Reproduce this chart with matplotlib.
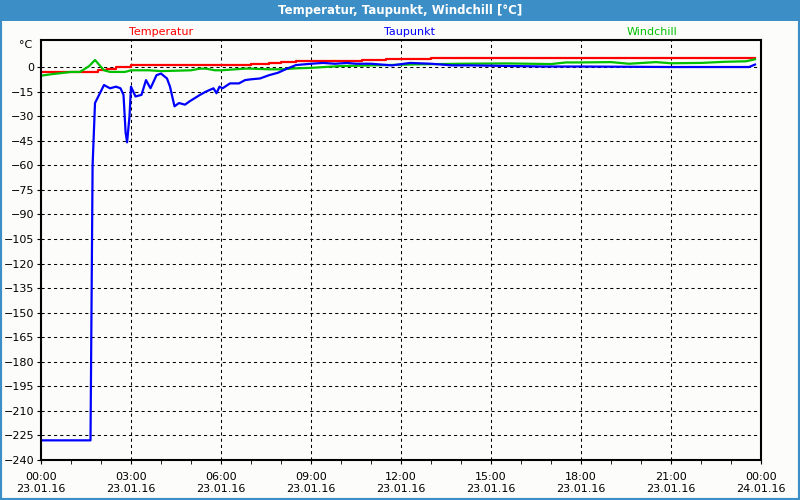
import matplotlib.pyplot as plt
from matplotlib.patches import Rectangle
from matplotlib.ticker import MultipleLocator

# =========================
# DATA (hours since 23.01.16 00:00, °C)
# =========================

temp_t = [0.0, 1.5, 1.9, 2.2, 2.5, 3.0, 4.0, 5.0, 6.0, 7.0, 7.6, 8.0, 8.5, 9.5, 10.7,
          11.5, 12.0, 13.0, 16.0, 20.0, 23.8]
temp_v = [-3.0, -3.0, -2.0, -1.0, 0.0, 1.0, 1.0, 1.3, 1.5, 2.0, 2.3, 3.0, 3.5, 3.8, 4.5,
          4.8, 5.0, 5.3, 5.3, 5.3, 5.3]

dew_t = [0.0, 1.65, 1.72, 1.8, 2.1, 2.3, 2.5, 2.65, 2.75, 2.82, 2.87, 2.95, 3.0, 3.15,
         3.35, 3.5, 3.65, 3.85, 4.0, 4.2, 4.3, 4.45, 4.6, 4.8, 4.95, 5.3, 5.5, 5.75, 5.85,
         5.95, 6.05, 6.3, 6.6, 6.8, 7.0, 7.3, 7.6, 7.9, 8.2, 8.5, 9.0, 9.4, 9.8, 10.2,
         10.5, 11.0, 11.7, 12.3, 13.0, 13.7, 14.3, 16.8, 18.0, 21.0, 23.0, 23.6, 23.8]
dew_v = [-228.0, -228.0, -60.0, -22.0, -11.0, -13.0, -12.0, -13.0, -17.0, -40.0, -46.0,
         -30.0, -12.0, -18.0, -17.0, -8.0, -13.0, -5.0, -4.0, -7.0, -12.0, -24.0, -22.0,
         -23.0, -21.0, -17.0, -15.0, -13.0, -16.0, -12.0, -13.0, -10.0, -10.0, -8.0, -7.5,
         -7.0, -5.0, -3.5, -1.0, 1.2, 2.0, 2.5, 2.0, 2.5, 2.0, 2.0, 1.0, 2.5, 2.0, 1.0,
         1.0, 0.3, 0.3, 0.0, 0.0, 0.0, 1.5]

wind_t = [0.0, 0.3, 1.0, 1.3, 1.6, 1.8, 2.1, 2.3, 2.8, 3.0, 3.6, 4.0, 5.0, 5.3, 5.5,
          5.8, 6.0, 6.8, 7.0, 7.6, 8.0, 8.5, 9.0, 10.0, 11.0, 12.5, 14.0, 15.5, 17.0,
          17.5, 18.0, 19.0, 19.6, 20.5, 21.0, 22.0, 22.8, 23.5, 23.8]
wind_v = [-5.3, -4.5, -3.0, -3.0, 0.5, 4.3, -2.0, -3.0, -3.0, -2.0, -2.0, -2.5, -2.0,
          -1.0, -1.0, -2.0, -2.0, -1.0, -1.0, -1.4, -1.4, -0.8, -0.5, 0.6, 1.0, 1.6,
          2.0, 2.2, 1.8, 2.8, 2.8, 3.0, 2.0, 3.0, 2.3, 2.5, 3.2, 3.5, 4.7]

series_names = ["Temperatur", "Taupunkt", "Windchill"]
series_colors = ["#ff0000", "#0000ff", "#00c000"]

x_ticks = [0, 3, 6, 9, 12, 15, 18, 21, 24]
x_labels = ["00:00\n23.01.16", "03:00\n23.01.16", "06:00\n23.01.16", "09:00\n23.01.16",
            "12:00\n23.01.16", "15:00\n23.01.16", "18:00\n23.01.16", "21:00\n23.01.16",
            "00:00\n24.01.16"]

# =========================
# PLOT
# =========================

FRAME = "#3c8fc6"

fig = plt.figure(figsize=(8, 5), dpi=100, facecolor="#fcfdfb")
plt.rcParams["font.family"] = ["DejaVu Sans"]

# outer frame and title bar
fig.patches.append(Rectangle((0, 0), 1, 1, transform=fig.transFigure, fill=False,
                             edgecolor=FRAME, linewidth=3))
fig.patches.append(Rectangle((0, 1 - 21 / 500), 1, 21 / 500, transform=fig.transFigure,
                             facecolor=FRAME, edgecolor="none"))
fig.text(0.5, 1 - 10.5 / 500, "Temperatur, Taupunkt, Windchill [°C]", color="white",
         ha="center", va="center", fontsize=8.5, fontweight="bold")

ax = fig.add_axes([41 / 800, 40 / 500, 720 / 800, 420 / 500])
ax.set_facecolor("#fcfdfb")

ax.plot(temp_t, temp_v, color=series_colors[0], linewidth=1.6, drawstyle="steps-post")
ax.plot(wind_t, wind_v, color=series_colors[2], linewidth=1.6)
ax.plot(dew_t, dew_v, color=series_colors[1], linewidth=1.6)

ax.set_xlim(0, 24)
ax.set_ylim(-240, 16.5)
ax.set_xticks(x_ticks)
ax.set_xticklabels(x_labels, fontsize=8)
ax.xaxis.set_minor_locator(MultipleLocator(1))
ax.set_yticks(range(-240, 1, 15))
ax.tick_params(axis="y", labelsize=8, length=3, pad=2)
ax.tick_params(axis="x", which="both", length=3, pad=6)
ax.grid(True, color="black", linestyle=(0, (3, 3)), linewidth=0.75)
for s in ax.spines.values():
    s.set_linewidth(1.5)

ax.text(-0.012, 13.4, "°C", transform=ax.get_yaxis_transform(), ha="right",
        va="center", fontsize=8)

for name, col, xc in zip(series_names, series_colors, [161, 410, 652]):
    fig.text(xc / 800, 1 - 32 / 500, name, color=col, ha="center", va="center",
             fontsize=8)

fig.savefig("out.png", dpi=100, facecolor=fig.get_facecolor())
plt.close(fig)
